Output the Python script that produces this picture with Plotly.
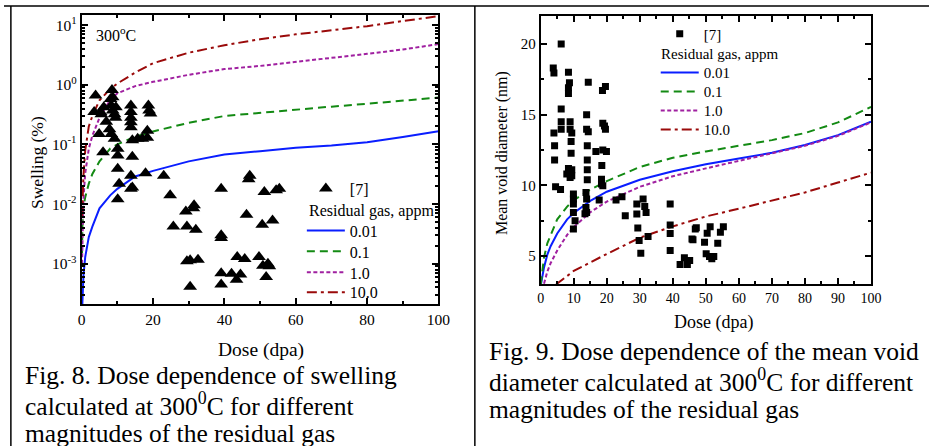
import plotly.graph_objects as go

# ---------------- data : Fig. 8 (swelling) ----------------
dose_l = [0.1, 0.2, 0.5, 1, 2, 3, 5, 8, 10, 15, 20, 30, 40, 50, 60, 70, 80, 90, 100]
swell_001 = [0.00015, 0.0003, 0.00063, 0.0013, 0.0028, 0.0042, 0.0085, 0.014, 0.018, 0.029, 0.036, 0.052, 0.068, 0.077, 0.088, 0.096, 0.109, 0.133, 0.167]
swell_01 = [0.0015, 0.004, 0.009, 0.013, 0.022, 0.032, 0.052, 0.085, 0.10, 0.135, 0.165, 0.23, 0.30, 0.34, 0.38, 0.43, 0.48, 0.54, 0.61]
swell_1 = [0.001, 0.003, 0.012, 0.033, 0.085, 0.14, 0.28, 0.56, 0.72, 0.95, 1.12, 1.47, 1.83, 2.07, 2.4, 2.85, 3.3, 3.9, 4.8]
swell_10 = [0.006, 0.012, 0.03, 0.08, 0.2, 0.3, 0.55, 0.85, 1.05, 1.6, 2.3, 3.45, 4.6, 5.8, 7.0, 8.2, 9.6, 11.7, 14.1]

tri_dose = [3.9, 3.5, 5.3, 6.2, 8.5, 8.1, 8.7, 8.3, 8.7, 9.6, 9.2, 9.5, 5.5, 6.9, 4.9, 7.8, 8.3, 9.2,
            13.8, 13.8, 13.8, 13.8, 13.8, 18.7, 18.9, 19.3, 14.2, 15.7, 17.0, 18.4, 18.4,
            6.0, 10.1, 10.1, 14.2, 10.1, 13.8, 13.8, 17.9, 23.0, 10.5, 14.2, 24.8, 10.1,
            29.2, 31.5, 31.3, 25.7, 29.5, 32.0, 39.1, 39.1, 39.1, 47.1, 46.8, 46.2, 51.2, 54.5, 55.4,
            50.6, 53.5, 29.5, 30.4, 32.6, 30.4, 39.1, 39.1, 42.0, 43.6, 45.7, 44.5, 43.4, 49.7,
            50.8, 52.2, 52.6, 51.7]
tri_swell = [0.66, 0.35, 0.35, 0.42, 0.82, 0.58, 0.62, 0.45, 0.37, 0.42, 0.32, 0.28, 0.32, 0.24, 0.15, 0.18, 0.15, 0.125,
             0.45, 0.35, 0.28, 0.235, 0.195, 0.45, 0.37, 0.33, 0.117, 0.125, 0.125, 0.13, 0.17,
             0.074, 0.085, 0.065, 0.062, 0.039, 0.030, 0.018, 0.033, 0.030, 0.022, 0.019, 0.014, 0.012,
             0.0075, 0.0096, 0.0085, 0.0042, 0.0042, 0.0037, 0.018, 0.0030, 0.0027, 0.030, 0.026, 0.0066, 0.016, 0.017, 0.018,
             0.0045, 0.0053, 0.0011, 0.00115, 0.00117, 0.00041, 0.00069, 0.00045, 0.00068, 0.0013, 0.0012, 0.00066, 0.00054, 0.0013,
             0.00093, 0.0010, 0.00091, 0.0006]

# ---------------- data : Fig. 9 (mean void diameter) ----------------
dose_r = [0, 0.5, 1, 2, 3, 5, 8, 10, 15, 20, 30, 40, 50, 60, 70, 80, 90, 100]
diam_001 = [2.9, 3.6, 4.2, 5.1, 5.7, 6.6, 7.6, 8.05, 8.9, 9.55, 10.4, 11.0, 11.5, 11.9, 12.3, 12.85, 13.55, 14.5]
diam_01 = [3.0, 4.2, 4.9, 5.9, 6.5, 7.6, 8.5, 8.95, 9.7, 10.3, 11.3, 11.95, 12.4, 12.8, 13.2, 13.7, 14.45, 15.55]
dose_r1 = [1, 2, 3, 5, 8, 10, 15, 20, 30, 40, 50, 60, 70, 80, 90, 100]
diam_1 = [3.05, 3.9, 4.5, 5.4, 6.5, 7.05, 8.1, 8.85, 9.9, 10.65, 11.2, 11.75, 12.25, 12.8, 13.5, 14.45]
dose_r10 = [4.7, 10, 20, 30, 40, 50, 60, 70, 80, 90, 100]
diam_10 = [3.0, 3.95, 5.15, 6.3, 7.1, 7.8, 8.35, 8.9, 9.5, 10.2, 10.9]

sq_dose = [6.2, 3.8, 4.0, 8.4, 14.4, 8.7, 8.4, 8.4, 19.6, 18.7, 6.2, 13.9, 6.2, 8.9, 6.2, 8.9, 4.0, 9.4,
           13.9, 14.4, 18.8, 19.3, 19.6, 9.2, 4.2, 14.1, 16.7, 18.8, 19.9, 9.2, 4.2, 14.1, 18.5, 8.4,
           9.4, 14.1, 14.1, 7.9, 8.9, 9.4, 18.4, 18.4, 18.8, 4.5, 6.0, 9.9, 9.9, 9.9, 13.7, 13.9, 17.7,
           22.8, 24.6, 9.9, 10.4, 9.9, 13.7, 13.9, 13.4, 25.6, 29.1, 31.0, 31.5, 31.9, 29.1, 29.4, 32.5,
           29.8, 30.3, 39.2, 39.2, 39.2, 39.2, 43.5, 42.2, 44.4, 45.1, 46.1, 45.8, 46.8, 47.1, 49.6,
           50.4, 51.3, 50.1, 51.1, 51.8, 52.4, 53.6, 54.4, 55.3]
sq_diam = [20.0, 18.3, 17.95, 18.0, 17.3, 17.25, 16.9, 16.5, 17.0, 16.7, 15.4, 15.0, 14.5, 14.5, 13.96, 13.96, 13.7, 13.7,
           13.96, 13.8, 14.4, 14.2, 13.96, 13.1, 12.8, 12.8, 12.4, 12.5, 12.4, 12.27, 11.8, 11.8, 11.4, 11.2,
           11.1, 11.1, 10.4, 10.8, 10.56, 10.68, 10.44, 10.09, 9.97, 9.9, 9.7, 9.39, 9.04, 8.68, 9.5, 9.04, 8.96,
           8.96, 9.2, 8.09, 7.5, 6.92, 8.44, 8.09, 8.0, 7.86, 8.68, 9.04, 8.5, 8.09, 7.98, 6.99, 6.38,
           6.1, 5.2, 8.68, 7.2, 6.6, 5.4, 4.88, 4.41, 4.41, 4.69, 6.15, 6.2, 6.92, 7.0, 5.98,
           6.62, 7.08, 5.16, 4.97, 4.81, 4.97, 5.9, 6.68, 7.08]

gas_labels = ["0.01", "0.1", "1.0", "10.0"]
legend_title = "Residual gas, appm"
y_ticks_l = [1e-3, 1e-2, 1e-1, 1, 10]
y_ticktext_l = ["10<sup>-3</sup>", "10<sup>-2</sup>", "10<sup>-1</sup>", "10<sup>0</sup>", "10<sup>1</sup>"]

# ---------------- styling ----------------
W, H = 941, 446
FONT = "Liberation Serif"
colors = ["#0a1eff", "#138a13", "#a020a0", "#9a0a0a"]
dashes = ["solid", "8px,5px", "4px,2.5px", "10px,4px,3px,4px"]

def px(x):
    return x / W

def py(y):
    return 1 - y / H

fig = go.Figure()

# legend slots (pixel positions of each legend entry)
left_leg_x, right_leg_x = 303, 663
left_rows = [230, 251, 272, 292]
right_rows = [72, 91, 110, 129]

left_vals = [swell_001, swell_01, swell_1, swell_10]
for i, (lab, vals, c, d) in enumerate(zip(gas_labels, left_vals, colors, dashes)):
    fig.add_trace(go.Scatter(x=dose_l, y=vals, mode="lines", name=lab,
                             line=dict(color=c, width=2, dash=d),
                             xaxis="x", yaxis="y", legend=f"legend{i + 2}"))
fig.add_trace(go.Scatter(x=tri_dose, y=tri_swell, mode="markers", name="[7]",
                         marker=dict(symbol="triangle-up", size=12, color="black"),
                         xaxis="x", yaxis="y", legend="legend"))

right_x = [dose_r, dose_r, dose_r1, dose_r10]
right_vals = [diam_001, diam_01, diam_1, diam_10]
for i, (lab, xs, vals, c, d) in enumerate(zip(gas_labels, right_x, right_vals, colors, dashes)):
    fig.add_trace(go.Scatter(x=xs, y=vals, mode="lines", name=lab,
                             line=dict(color=c, width=2, dash=d),
                             xaxis="x2", yaxis="y2", legend=f"legend{i + 7}"))
fig.add_trace(go.Scatter(x=sq_dose, y=sq_diam, mode="markers", name="[7]",
                         marker=dict(symbol="square", size=7, color="black"),
                         xaxis="x2", yaxis="y2", legend="legend6"))

axis_common = dict(showline=True, linecolor="black", linewidth=2, mirror="allticks",
                   ticks="inside", tickcolor="black", tickwidth=1.5, ticklen=6,
                   showgrid=False, zeroline=False)

minor_log = [k * 10.0 ** e for e in range(-4, 2) for k in range(2, 10)]

def leg(x, y, size):
    return dict(x=px(x), y=py(y), xanchor="left", yanchor="middle", itemwidth=38,
                bgcolor="rgba(0,0,0,0)", borderwidth=0, font=dict(family=FONT, size=size))

legends = {"legend": leg(left_leg_x, 188, 16), "legend6": leg(right_leg_x, 33, 15)}
for i, yy in enumerate(left_rows):
    legends[f"legend{i + 2}"] = leg(left_leg_x, yy, 16)
for i, yy in enumerate(right_rows):
    legends[f"legend{i + 7}"] = leg(right_leg_x, yy, 15)

fig.update_layout(
    width=W, height=H, margin=dict(l=0, r=0, t=0, b=0),
    paper_bgcolor="white", plot_bgcolor="white",
    font=dict(family=FONT, color="black"),
    showlegend=True,
    xaxis=dict(domain=[px(79), px(442)], range=[0, 100], anchor="y",
               tick0=0, dtick=20, tickfont=dict(family=FONT, size=15.5),
               minor=dict(ticks="inside", dtick=10, ticklen=3, tickcolor="black"),
               **axis_common),
    yaxis=dict(domain=[py(304), py(14)], type="log", range=[-3.68, 1.17], anchor="x",
               tickvals=y_ticks_l, ticktext=y_ticktext_l, tickfont=dict(family=FONT, size=15.5),
               minor=dict(ticks="inside", tickvals=minor_log, ticklen=3, tickcolor="black"),
               **axis_common),
    xaxis2=dict(domain=[px(546), px(882)], range=[0, 100], anchor="y2",
                tick0=0, dtick=10, tickfont=dict(family=FONT, size=14),
                minor=dict(ticks="inside", dtick=5, ticklen=3, tickcolor="black"),
                **axis_common),
    yaxis2=dict(domain=[py(284), py(14.7)], range=[3, 22], anchor="x2",
                tick0=0, dtick=5, tickfont=dict(family=FONT, size=15),
                minor=dict(ticks="inside", dtick=2.5, ticklen=3, tickcolor="black"),
                **axis_common),
    **legends,
)

ann = []
def add_text(text, x, y, size, xanchor="center", yanchor="middle", angle=0):
    ann.append(dict(text=text, x=px(x), y=py(y), xref="paper", yref="paper",
                    xanchor=xanchor, yanchor=yanchor, showarrow=False, textangle=angle,
                    font=dict(family=FONT, size=size, color="black")))

add_text(legend_title, 308, 210, 16, xanchor="left")
add_text(legend_title, 666, 53, 15, xanchor="left")
add_text("300<sup>o</sup>C", 92, 33, 16, xanchor="left")
add_text("Dose (dpa)", 261, 350, 19.5)
add_text("Swelling (%)", 33, 162, 17.5, angle=-90)
add_text("Dose (dpa)", 722, 322, 18)
add_text("Mean void diameter (nm)", 506, 152, 16, angle=-90)

cap_l = ["Fig. 8. Dose dependence of swelling",
         "calculated at 300<sup>0</sup>C for different",
         "magnitudes of the residual gas"]
cap_r = ["Fig. 9. Dose dependence of the mean void",
         "diameter calculated at 300<sup>0</sup>C for different",
         "magnitudes of the residual gas"]
for i, t in enumerate(cap_l):
    add_text(t, 19, 375.5 + 29 * i, 25.5, xanchor="left")
for i, t in enumerate(cap_r):
    add_text(t, 491, 351.5 + 29 * i, 25.5, xanchor="left")

fig.update_layout(annotations=ann)

shapes = [
    dict(type="line", xref="paper", yref="paper", x0=0, x1=1, y0=py(5), y1=py(5),
         line=dict(color="black", width=1.5)),
    dict(type="line", xref="paper", yref="paper", x0=px(7), x1=px(7), y0=py(5), y1=0,
         line=dict(color="black", width=1.5)),
    dict(type="line", xref="paper", yref="paper", x0=px(479), x1=px(479), y0=py(5), y1=0,
         line=dict(color="black", width=1.5)),
]
fig.update_layout(shapes=shapes)

fig.write_html("out.html")
